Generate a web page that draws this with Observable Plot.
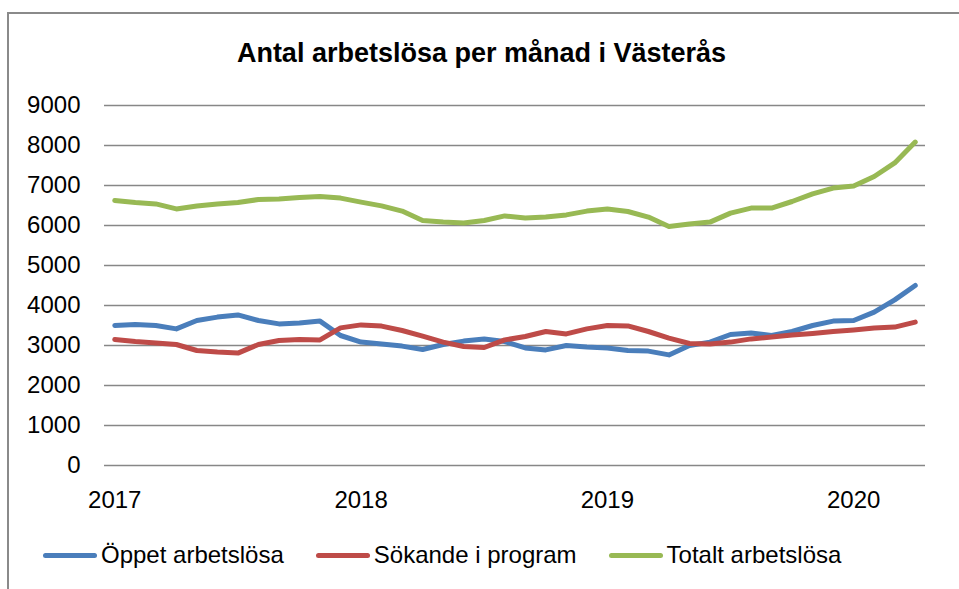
<!DOCTYPE html>
<html><head><meta charset="utf-8">
<script src="https://cdn.jsdelivr.net/npm/d3@7"></script>
<script src="https://cdn.jsdelivr.net/npm/@observablehq/plot@0.6"></script>
<style>
body{margin:0;background:#fff;width:959px;height:589px;overflow:hidden;position:relative;font-family:"Liberation Sans",Arial,sans-serif;color:#000;}
#frame{position:absolute;left:7px;top:12px;right:0;bottom:0;border-left:2px solid #8a8a8a;border-top:2px solid #8a8a8a;}
#title{position:absolute;top:40px;left:2px;width:959px;text-align:center;font-weight:bold;font-size:27px;line-height:27px;}
#chart{position:absolute;top:80px;left:0;}
#legend{position:absolute;top:540px;left:43px;height:30px;display:flex;align-items:center;gap:32px;font-size:24px;line-height:30px;white-space:nowrap;}
.item{display:flex;align-items:center;gap:4px}
.sw{display:inline-block;width:54px;height:5px;border-radius:3px}
</style></head>
<body>
<div id="frame"></div>
<div id="title">Antal arbetslösa per månad i Västerås</div>
<div id="chart"></div>
<div id="legend"></div>
<script>
const months = ["2017-01","2017-02","2017-03","2017-04","2017-05","2017-06","2017-07","2017-08","2017-09","2017-10","2017-11","2017-12",
"2018-01","2018-02","2018-03","2018-04","2018-05","2018-06","2018-07","2018-08","2018-09","2018-10","2018-11","2018-12",
"2019-01","2019-02","2019-03","2019-04","2019-05","2019-06","2019-07","2019-08","2019-09","2019-10","2019-11","2019-12",
"2020-01","2020-02","2020-03","2020-04"];
const oppet = [3500,3525,3500,3415,3625,3710,3765,3625,3540,3565,3610,3250,3085,3040,2985,2900,3025,3110,3165,3100,2940,2890,3000,2960,2935,2875,2860,2765,3000,3085,3275,3310,3250,3350,3500,3610,3625,3835,4140,4500];
const sokande = [3150,3100,3065,3025,2875,2835,2810,3025,3125,3150,3140,3440,3515,3485,3375,3235,3085,2975,2950,3140,3225,3350,3290,3415,3500,3490,3350,3185,3050,3040,3085,3165,3210,3260,3300,3350,3390,3435,3460,3585];
const totalt = [6625,6575,6540,6415,6485,6535,6575,6650,6660,6700,6725,6685,6585,6490,6360,6125,6085,6065,6125,6240,6190,6210,6265,6360,6410,6350,6210,5975,6040,6085,6310,6435,6435,6600,6790,6935,6990,7225,7565,8085];
const seriesNames = ["Öppet arbetslösa","Sökande i program","Totalt arbetslösa"];
const seriesColors = ["#4a7ebb","#be4b48","#98b954"];
const yTicks = [0,1000,2000,3000,4000,5000,6000,7000,8000,9000];
const xTicks = ["2017-01","2018-01","2019-01","2020-01"];
const xTickLabels = ["2017","2018","2019","2020"];

const seriesValues = [oppet, sokande, totalt];
const data = seriesNames.flatMap((name, s) => months.map((m, i) => ({month: m, value: seriesValues[s][i], series: name})));

const chart = Plot.plot({
  width: 959, height: 440,
  marginTop: 25, marginBottom: 55, marginLeft: 104, marginRight: 34,
  style: {fontFamily: "Liberation Sans, Arial, sans-serif", fontSize: "24px", color: "#000", background: "transparent", overflow: "visible"},
  x: {type: "point", domain: months, padding: 0.5, round: false, label: null},
  y: {domain: [0, 9000], label: null},
  color: {domain: seriesNames, range: seriesColors},
  marks: [
    Plot.gridY(yTicks, {stroke: "#878787", strokeOpacity: 1, strokeWidth: 1.6}),
    Plot.axisY(yTicks, {tickSize: 0, tickPadding: 24, label: null, tickFormat: d => String(d)}),
    Plot.axisX(xTicks, {tickSize: 0, tickPadding: 25, label: null, tickFormat: d => xTickLabels[xTicks.indexOf(d)]}),
    Plot.lineY(data, {x: "month", y: "value", stroke: "series", strokeWidth: 5, strokeLinejoin: "round", strokeLinecap: "round"})
  ]
});
document.getElementById("chart").appendChild(chart);

const legend = document.getElementById("legend");
seriesNames.forEach((name, i) => {
  const item = document.createElement("div");
  item.className = "item";
  const sw = document.createElement("span");
  sw.className = "sw";
  sw.style.background = seriesColors[i];
  const label = document.createElement("span");
  label.textContent = name;
  item.appendChild(sw);
  item.appendChild(label);
  legend.appendChild(item);
});
</script>
</body></html>
